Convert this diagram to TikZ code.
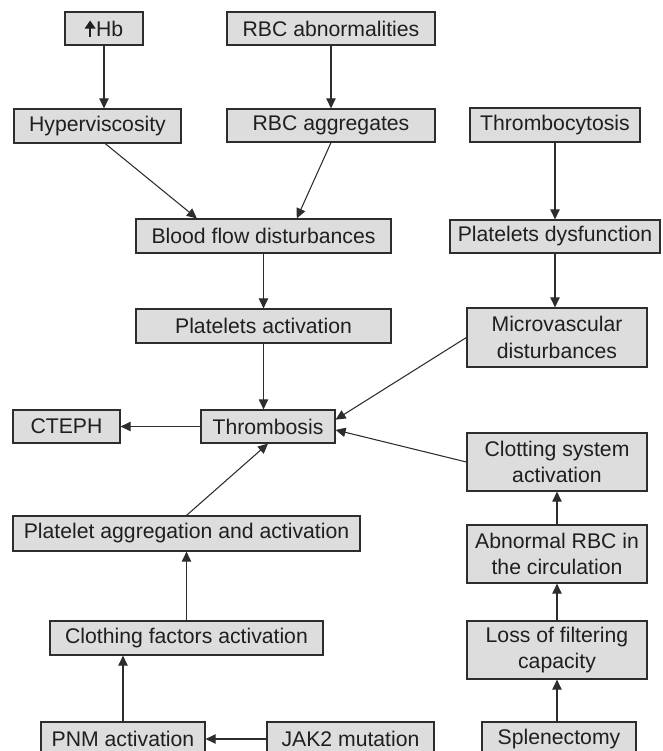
\documentclass[tikz,border=0pt]{standalone}
\usepackage{fontspec}
\setmainfont{Liberation Sans}
\usetikzlibrary{arrows.meta,calc}
\definecolor{boxfill}{RGB}{221,221,221}
\definecolor{edgecol}{RGB}{45,45,45}
\definecolor{txtcol}{RGB}{32,30,30}
\begin{document}
\begin{tikzpicture}[x=0.75pt,y=-0.75pt,
  bx/.style={draw=edgecol, fill=boxfill, line width=0.9pt, inner sep=0pt, align=center,
    text=txtcol, font=\fontsize{15.9}{20}\selectfont},
  arr/.style={draw=edgecol, line width=0.8pt, -{Triangle[length=7.5pt,width=7pt]}}]
\useasboundingbox (0,0) rectangle (663,751);
\clip (0,0) rectangle (663,751);
% nodes
\node[bx, minimum width=58.5pt, minimum height=24.75pt] (hb) at (104,28.5)
  {\tikz[baseline=0pt]{\draw[draw=txtcol, fill=txtcol, line width=1.1pt, -{Triangle[length=6pt,width=8pt]}] (0pt,0pt) -- (0pt,12pt);}\kern0.5pt Hb};
\node[bx, minimum width=156pt, minimum height=24.75pt] (rbcab) at (331,28.5) {RBC abnormalities};
\node[bx, minimum width=125.25pt, minimum height=25.5pt] (hyper) at (97.5,126) {Hyperviscosity};
\node[bx, minimum width=156pt, minimum height=24.75pt] (rbcagg) at (331,125.5) {RBC aggregates};
\node[bx, minimum width=127.5pt, minimum height=25.5pt] (thrombocy) at (555,125) {Thrombocytosis};
\node[bx, minimum width=191.25pt, minimum height=25.5pt] (blood) at (263.5,236) {Blood flow disturbances};
\node[bx, minimum width=157.5pt, minimum height=24.75pt] (pdys) at (555,236.5) {Platelets dysfunction};
\node[bx, minimum width=191.25pt, minimum height=25.5pt] (pact) at (263.5,326) {Platelets activation};
\node[bx, minimum width=135pt, minimum height=44.25pt] (micro) at (557,337.5) {Microvascular\\disturbances};
\node[bx, minimum width=80.25pt, minimum height=24.75pt] (cteph) at (66.5,426.5) {CTEPH};
\node[bx, minimum width=100.5pt, minimum height=24.75pt] (thromb) at (268,426.5) {Thrombosis};
\node[bx, minimum width=135pt, minimum height=43.5pt] (clot) at (557,462) {Clotting system\\activation};
\node[bx, minimum width=260.25pt, minimum height=26.25pt] (pagg) at (186.5,533.5) {Platelet aggregation and activation};
\node[bx, minimum width=135pt, minimum height=43.5pt] (abn) at (557,554) {Abnormal RBC in\\the circulation};
\node[bx, minimum width=204.75pt, minimum height=25.5pt] (cloth) at (186.5,638) {Clothing factors activation};
\node[bx, minimum width=135pt, minimum height=43.5pt] (loss) at (557,650) {Loss of filtering\\capacity};
\node[bx, minimum width=123pt, minimum height=25.5pt] (pnm) at (123,739) {PNM activation};
\node[bx, minimum width=125.25pt, minimum height=25.5pt] (jak) at (350.5,739) {JAK2 mutation};
\node[bx, minimum width=115.5pt, minimum height=25.5pt] (splen) at (559,739) {Splenectomy};
% connectors
\draw[arr] (hb.south) -- (hb.south |- hyper.north);
\draw[arr] (rbcab.south) -- (rbcagg.north);
\draw[arr] ($(hyper.south west)!0.546!(hyper.south east)$) -- ($(blood.north west)!0.24!(blood.north east)$);
\draw[arr] (rbcagg.south) -- ($(blood.north west)!0.63!(blood.north east)$);
\draw[arr] (blood.south) -- (pact.north);
\draw[arr] (pact.south) -- (pact.south |- thromb.north);
\draw[arr] (thrombocy.south) -- (thrombocy.south |- pdys.north);
\draw[arr] (pdys.south) -- (pdys.south |- micro.north);
\draw[arr] (micro.west) -- ($(thromb.north east)!0.3!(thromb.south east)$);
\draw[arr] (clot.west) -- ($(thromb.north east)!0.6!(thromb.south east)$);
\draw[arr] (thromb.west) -- (cteph.east);
\draw[arr] (pagg.north) -- (thromb.south);
\draw[arr] (cloth.north) -- (pagg.south);
\draw[arr] (pnm.north) -- (pnm.north |- cloth.south);
\draw[arr] (jak.west) -- (pnm.east);
\draw[arr] (splen.north -| loss.south) -- (loss.south);
\draw[arr] (loss.north) -- (abn.south);
\draw[arr] (abn.north) -- (clot.south);
\end{tikzpicture}
\end{document}
